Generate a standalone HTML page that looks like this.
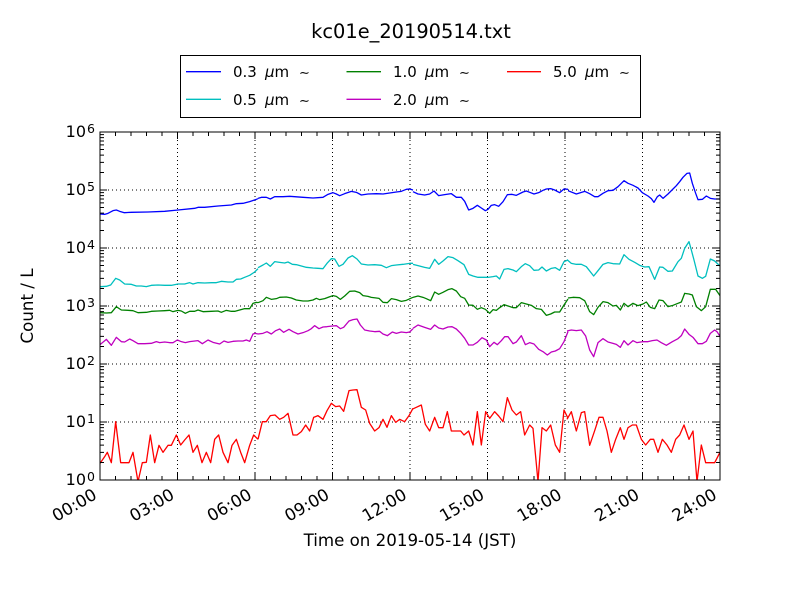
<!DOCTYPE html>
<html><head><meta charset="utf-8"><style>
html,body{margin:0;padding:0;background:#fff;}
svg{display:block;font-family:"DejaVu Sans","Liberation Sans",sans-serif;}
</style></head><body>
<svg width="800" height="600" viewBox="0 0 800 600" xmlns="http://www.w3.org/2000/svg">
<rect width="800" height="600" fill="#fff"/>
<text x="411" y="38" font-size="19.4" text-anchor="middle" fill="#000">kc01e_20190514.txt</text>

<!-- grid -->
<g stroke="#000" stroke-width="1" stroke-dasharray="1,3" fill="none">
<path d="M177.5 132V480M255 132V480M332.5 132V480M410 132V480M487.5 132V480M565 132V480M642.5 132V480"/>
<path d="M100 190H720M100 248H720M100 306H720M100 364H720M100 422H720"/>
</g>

<!-- series -->
<defs><clipPath id="cp"><rect x="100" y="132" width="620" height="348"/></clipPath></defs>
<g clip-path="url(#cp)" fill="none" stroke-width="1.3" stroke-linejoin="round">
<!-- blue -->
<g stroke="#0000ff">
<polyline vector-effect="non-scaling-stroke" transform="translate(98,170) scale(0.333333)" points="6,132 20,133 30,130 45,122 55,120 65,124 78,128 100,127 150,126 200,124 240,120 290,115 300,112 320,112 360,108 400,105 415,101 435,100 455,95 475,88 480,86"/>
<polyline vector-effect="non-scaling-stroke" transform="translate(253,170) scale(0.333333)" points="15,85 25,82 40,82 52,87 65,80 90,80 110,79 125,80 150,82 180,84 210,82 225,73 240,68 250,72 260,77 275,71 295,64 310,67 325,75 345,72 370,71 390,72 410,69 430,66 445,64 460,58 470,57 480,60"/>
<polyline vector-effect="non-scaling-stroke" transform="translate(408,170) scale(0.333333)" points="15,65 30,72 50,75 65,72 78,63 92,77 110,74 130,71 145,82 160,82 170,94 182,120 195,115 208,106 220,114 232,122 240,118 250,106 260,104 272,109 285,95 298,74 312,73 325,76 345,66 355,63 365,67 378,72 392,68 405,61 415,57 428,56 440,60 455,68 468,57 480,58"/>
<polyline vector-effect="non-scaling-stroke" transform="translate(563,170) scale(0.333333)" points="15,62 40,72 65,64 80,71 95,80 105,80 120,70 135,62 150,61 165,50 183,32 195,40 210,46 225,54 238,68 255,78 265,86 273,97 283,80 290,75 300,85 315,72 330,57 340,47 350,35 360,22 372,10 380,9 388,40 398,70 405,89 418,88 430,78 442,85 455,87 471,87"/>
</g>
<!-- cyan -->
<g stroke="#00bfbf">
<polyline vector-effect="non-scaling-stroke" transform="translate(98,170) scale(0.333333)" points="6,350 25,349 38,345 53,325 65,330 80,342 100,343 115,348 130,348 145,350 160,346 180,345 200,346 220,346 240,342 260,342 275,338 285,342 300,338 320,339 340,338 355,338 370,334 390,336 405,336 415,328 428,327 440,322 455,316 470,306 480,296"/>
<polyline vector-effect="non-scaling-stroke" transform="translate(253,170) scale(0.333333)" points="15,293 30,285 40,279 52,289 65,275 80,277 95,279 105,276 118,283 130,284 145,288 160,292 180,294 195,295 210,296 222,280 235,266 245,267 258,289 270,283 285,264 298,257 312,267 325,282 345,285 365,284 385,286 400,293 415,287 430,285 450,283 470,280 480,280"/>
<polyline vector-effect="non-scaling-stroke" transform="translate(408,170) scale(0.333333)" points="15,283 30,287 50,292 65,295 80,268 92,283 105,273 120,260 135,263 150,272 168,284 182,313 195,318 210,322 225,322 240,322 255,320 265,318 275,327 288,298 300,296 315,300 325,305 340,290 352,281 365,287 378,301 392,300 402,291 415,303 430,295 442,293 455,301 468,275 480,270"/>
<polyline vector-effect="non-scaling-stroke" transform="translate(563,170) scale(0.333333)" points="12,269 25,280 40,283 55,283 70,290 92,318 105,302 120,283 135,278 150,281 170,282 183,254 198,268 215,277 230,286 245,291 258,290 275,328 290,291 300,292 315,304 328,303 345,275 355,265 365,235 378,215 385,240 393,270 405,318 418,325 428,319 442,267 455,273 471,288"/>
</g>
<!-- green -->
<g stroke="#008000">
<polyline vector-effect="non-scaling-stroke" transform="translate(98,170) scale(0.333333)" points="6,428 25,429 40,428 55,410 70,420 90,421 105,422 120,428 145,427 160,424 180,423 200,422 215,421 225,425 240,421 250,423 262,430 275,424 290,424 300,420 315,425 340,424 360,423 370,427 385,421 400,424 410,424 425,420 440,416 455,416 465,400 475,397 480,398"/>
<polyline vector-effect="non-scaling-stroke" transform="translate(253,170) scale(0.333333)" points="15,398 30,392 40,382 55,388 70,386 80,382 100,381 115,384 130,390 150,393 165,393 180,390 190,385 200,389 215,386 228,381 240,377 250,379 262,388 275,378 290,364 305,363 320,368 330,377 345,379 355,382 370,384 378,385 390,397 403,398 415,386 430,389 445,394 460,391 480,382"/>
<polyline vector-effect="non-scaling-stroke" transform="translate(408,170) scale(0.333333)" points="15,382 30,378 45,382 55,386 68,392 80,366 92,373 105,367 120,359 132,356 145,363 158,380 170,385 182,405 195,406 208,418 220,413 232,418 245,430 255,419 265,421 275,413 288,404 300,408 315,413 325,413 340,398 355,402 370,406 385,416 400,418 415,436 428,432 440,426 455,426 468,405 480,387"/>
<polyline vector-effect="non-scaling-stroke" transform="translate(563,170) scale(0.333333)" points="15,384 30,382 50,383 65,392 80,425 92,434 105,412 120,395 135,398 150,408 160,406 172,420 183,400 195,410 210,400 225,407 240,402 250,396 262,412 275,416 288,390 300,392 315,410 330,406 345,400 355,396 365,370 378,372 388,375 400,410 415,422 428,410 442,358 458,358 471,377"/>
</g>
<!-- magenta -->
<g stroke="#bf00bf">
<polyline vector-effect="non-scaling-stroke" transform="translate(98,170) scale(0.333333)" points="6,524 25,508 40,526 55,502 70,515 80,516 95,507 105,512 120,521 140,521 160,520 175,515 185,518 200,516 215,518 225,518 238,510 250,515 262,518 275,515 300,512 313,521 330,510 345,517 365,522 378,513 390,517 405,514 420,513 435,513 445,510 455,514 465,492 472,490 480,492"/>
<polyline vector-effect="non-scaling-stroke" transform="translate(253,170) scale(0.333333)" points="15,492 30,490 42,485 55,492 68,482 80,477 92,487 108,478 120,485 135,492 150,488 165,482 175,476 185,467 198,476 210,471 222,470 238,468 250,467 262,476 272,472 288,453 300,449 312,447 322,465 335,480 350,483 365,485 380,484 390,492 403,497 418,486 430,490 445,486 460,488 470,486 480,476"/>
<polyline vector-effect="non-scaling-stroke" transform="translate(408,170) scale(0.333333)" points="15,475 30,465 50,472 68,478 80,465 92,474 105,477 120,471 132,470 145,477 158,490 170,505 182,525 195,525 208,517 222,503 235,510 245,530 258,517 268,524 280,512 290,500 300,500 315,521 325,516 340,497 352,524 365,518 378,522 392,538 405,545 418,555 430,546 442,543 455,536 468,515 480,485"/>
<polyline vector-effect="non-scaling-stroke" transform="translate(563,170) scale(0.333333)" points="12,483 25,480 40,482 55,480 68,498 80,540 92,560 105,518 120,506 135,516 150,520 160,523 172,532 183,512 195,525 210,512 222,518 240,515 255,515 268,512 282,510 295,518 310,526 328,515 345,506 355,497 365,477 378,493 390,502 405,521 418,521 430,514 442,490 455,480 462,485 471,499"/>
</g>
<!-- red -->
<g stroke="#ff0000">
<polyline vector-effect="non-scaling-stroke" transform="translate(98,170) scale(0.333333)" points="6,880 20,860 28,847 40,878 53,755 68,878 80,878 93,878 105,847 120,935 133,878 145,877 157,795 170,878 183,826 195,847 210,826 220,826 235,795 248,825 260,810 273,795 285,847 298,826 312,878 325,847 338,878 350,808 362,795 375,847 390,878 402,826 415,808 428,847 440,878 455,826 467,795 480,808"/>
<polyline vector-effect="non-scaling-stroke" transform="translate(253,170) scale(0.333333)" points="15,808 28,755 40,755 52,737 66,735 80,748 92,742 105,730 120,795 132,795 145,785 158,765 170,783 182,742 195,737 210,748 222,722 235,700 248,710 260,708 272,724 288,662 300,660 312,659 325,712 338,720 350,760 365,783 378,773 390,748 402,772 415,737 428,757 440,748 455,755 468,737 480,715"/>
<polyline vector-effect="non-scaling-stroke" transform="translate(408,170) scale(0.333333)" points="12,718 25,712 40,705 52,763 65,783 80,742 92,773 105,773 118,725 130,783 145,783 158,783 168,795 182,783 195,825 208,725 220,825 233,725 245,745 260,725 272,738 285,755 298,683 312,720 325,735 338,725 350,795 365,765 375,775 390,935 402,773 415,783 428,765 442,825 455,847 468,720 480,745"/>
<polyline vector-effect="non-scaling-stroke" transform="translate(563,170) scale(0.333333)" points="12,748 25,725 40,783 55,728 65,725 80,826 95,782 108,742 120,742 132,783 145,847 158,808 172,773 183,808 195,773 208,765 220,765 235,808 248,825 262,808 272,808 285,847 298,808 312,825 325,847 338,808 350,795 363,765 378,808 390,783 402,935 415,825 428,878 442,878 455,878 471,847"/>
</g>
</g>

<!-- ticks -->
<g stroke="#000" stroke-width="1" fill="none">
<path id="ymin" d="M100 462.54h4M100 452.33h4M100 445.08h4M100 439.46h4M100 434.87h4M100 430.99h4M100 427.63h4M100 424.65h4M100 404.54h4M100 394.33h4M100 387.08h4M100 381.46h4M100 376.87h4M100 372.99h4M100 369.63h4M100 366.65h4M100 346.54h4M100 336.33h4M100 329.08h4M100 323.46h4M100 318.87h4M100 314.99h4M100 311.63h4M100 308.65h4M100 288.54h4M100 278.33h4M100 271.08h4M100 265.46h4M100 260.87h4M100 256.99h4M100 253.63h4M100 250.65h4M100 230.54h4M100 220.33h4M100 213.08h4M100 207.46h4M100 202.87h4M100 198.99h4M100 195.63h4M100 192.65h4M100 172.54h4M100 162.33h4M100 155.08h4M100 149.46h4M100 144.87h4M100 140.99h4M100 137.63h4M100 134.65h4M100 190h7M100 248h7M100 306h7M100 364h7M100 422h7"/>
<use href="#ymin" transform="translate(820,0) scale(-1,1)"/>
<path id="xmin" d="M115.5 480v-4M131 480v-4M146.5 480v-4M162 480v-4M193 480v-4M208.5 480v-4M224 480v-4M239.5 480v-4M270.5 480v-4M286 480v-4M301.5 480v-4M317 480v-4M348 480v-4M363.5 480v-4M379 480v-4M394.5 480v-4M425.5 480v-4M441 480v-4M456.5 480v-4M472 480v-4M503 480v-4M518.5 480v-4M534 480v-4M549.5 480v-4M580.5 480v-4M596 480v-4M611.5 480v-4M627 480v-4M658 480v-4M673.5 480v-4M689 480v-4M704.5 480v-4M177.5 480v-7M255 480v-7M332.5 480v-7M410 480v-7M487.5 480v-7M565 480v-7M642.5 480v-7"/>
<use href="#xmin" transform="translate(0,612) scale(1,-1)"/>
<rect x="100" y="132" width="620" height="348"/>
</g>

<!-- y tick labels -->
<g font-size="16" fill="#000" text-anchor="end">
<text x="86" y="137">10</text><text x="86" y="195">10</text><text x="86" y="253">10</text><text x="86" y="311">10</text><text x="86" y="369">10</text><text x="86" y="427">10</text><text x="86" y="485">10</text>
</g>
<g font-size="12.5" fill="#000">
<text x="87" y="133">6</text><text x="87" y="191">5</text><text x="87" y="249">4</text><text x="87" y="307">3</text><text x="87" y="365">2</text><text x="87" y="423">1</text><text x="87" y="481">0</text>
</g>
<text transform="translate(33,306) rotate(-90)" font-size="16.67" text-anchor="middle" fill="#000">Count / L</text>

<!-- x tick labels -->
<g font-size="16.67" fill="#000" text-anchor="end">
<text transform="translate(98,498) rotate(-30)">00:00</text>
<text transform="translate(175.5,498) rotate(-30)">03:00</text>
<text transform="translate(253,498) rotate(-30)">06:00</text>
<text transform="translate(330.5,498) rotate(-30)">09:00</text>
<text transform="translate(408,498) rotate(-30)">12:00</text>
<text transform="translate(485.5,498) rotate(-30)">15:00</text>
<text transform="translate(563,498) rotate(-30)">18:00</text>
<text transform="translate(640.5,498) rotate(-30)">21:00</text>
<text transform="translate(718,498) rotate(-30)">24:00</text>
</g>
<text x="410" y="546" font-size="16.67" text-anchor="middle" fill="#000">Time on 2019-05-14 (JST)</text>

<!-- legend -->
<rect x="180.5" y="55.5" width="460" height="62" fill="#fff" stroke="#000" stroke-width="1"/>
<g stroke-width="1.3">
<line x1="186" y1="71.7" x2="221" y2="71.7" stroke="#0000ff"/>
<line x1="186" y1="99.3" x2="221" y2="99.3" stroke="#00bfbf"/>
<line x1="346.5" y1="71.7" x2="381" y2="71.7" stroke="#008000"/>
<line x1="346.5" y1="99.3" x2="381" y2="99.3" stroke="#bf00bf"/>
<line x1="507" y1="71.7" x2="541" y2="71.7" stroke="#ff0000"/>
</g>
<g font-size="15" fill="#000">
<text x="233" y="77">0.3 <tspan x="265" font-style="italic">μ</tspan><tspan>m</tspan><tspan x="299" font-size="13">∼</tspan></text>
<text x="233" y="105">0.5 <tspan x="265" font-style="italic">μ</tspan><tspan>m</tspan><tspan x="299" font-size="13">∼</tspan></text>
<text x="393" y="77">1.0 <tspan x="425" font-style="italic">μ</tspan><tspan>m</tspan><tspan x="459" font-size="13">∼</tspan></text>
<text x="393" y="105">2.0 <tspan x="425" font-style="italic">μ</tspan><tspan>m</tspan><tspan x="459" font-size="13">∼</tspan></text>
<text x="553" y="77">5.0 <tspan x="585" font-style="italic">μ</tspan><tspan>m</tspan><tspan x="619" font-size="13">∼</tspan></text>
</g>
</svg>
</body></html>
